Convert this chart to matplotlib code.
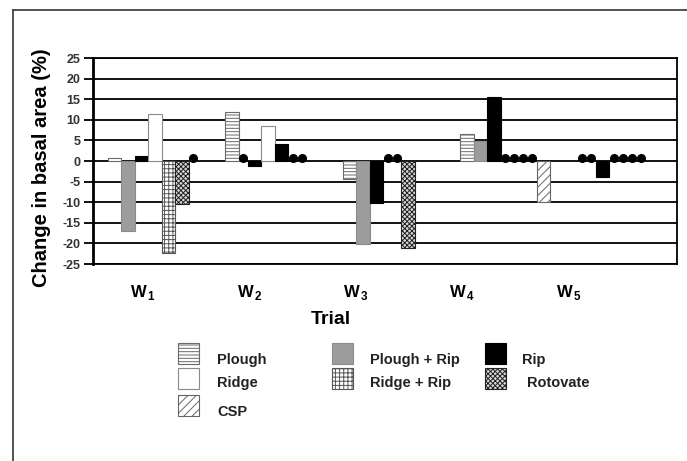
import numpy as np
import matplotlib
matplotlib.use("Agg")
import matplotlib.pyplot as plt
from matplotlib.patches import Rectangle
from matplotlib.lines import Line2D

plt.rcParams['font.family'] = ['Liberation Sans', 'DejaVu Sans']
plt.rcParams['mathtext.fontset'] = 'custom'
plt.rcParams['mathtext.bf'] = 'Liberation Sans:bold'
plt.rcParams['mathtext.rm'] = 'Liberation Sans:bold'
plt.rcParams['hatch.linewidth'] = 0.7

# ---- data (None = no data, shown as a dot on the zero line) ----
trials = ['1', '2', '3', '4', '5']

w1_treat = ['Plough', 'Plough + Rip', 'Rip', 'Ridge', 'Ridge + Rip', 'Rotovate', 'CSP']
w1_vals = [0.7, -17.0, 1.2, 11.3, -22.3, -10.4, None]

w2_treat = ['Plough', 'Plough + Rip', 'Rip', 'Ridge', 'Rip', 'Rotovate', 'CSP']
w2_vals = [12.0, None, -1.2, 8.5, 4.2, None, None]

w3_treat = ['Plough', 'Plough + Rip', 'Rip', 'Ridge', 'Ridge + Rip', 'Rotovate']
w3_vals = [-4.4, -20.1, -10.1, None, None, -21.0]

w4_treat = ['Plough', 'Plough + Rip', 'Rip', 'Ridge', 'Ridge + Rip', 'Rotovate', None, 'CSP']
w4_vals = [6.6, 4.9, 15.6, None, None, None, None, -10.0]

w5_treat = ['Plough', 'Plough + Rip', 'Rip', 'Ridge', 'Ridge + Rip', 'Rotovate', 'CSP']
w5_vals = [None, None, -4.0, None, None, None, None]

groups = [(w1_treat, w1_vals), (w2_treat, w2_vals), (w3_treat, w3_vals),
          (w4_treat, w4_vals), (w5_treat, w5_vals)]

yticks = [-25, -20, -15, -10, -5, 0, 5, 10, 15, 20, 25]

legend_cols = [['Plough', 'Ridge', 'CSP'],
               ['Plough + Rip', 'Ridge + Rip'],
               ['Rip', 'Rotovate']]

# ---- styles ----
styles = {
    'Plough':       dict(facecolor='white', edgecolor='#6a6a6a', hatch='-----'),
    'Plough + Rip': dict(facecolor='#9c9c9c', edgecolor='#8a8a8a', hatch=None),
    'Rip':          dict(facecolor='black', edgecolor='black', hatch=None),
    'Ridge':        dict(facecolor='white', edgecolor='#8a8a8a', hatch=None),
    'Ridge + Rip':  dict(facecolor='white', edgecolor='#555555', hatch='++++'),
    'Rotovate':     dict(facecolor='#d8d8d8', edgecolor='#222222', hatch='xxxxxxx'),
    'CSP':          dict(facecolor='white', edgecolor='#666666', hatch='////'),
}

W, H = 687, 461
fig = plt.figure(figsize=(W / 100, H / 100), dpi=100)

ax_l, ax_r, ax_t, ax_b = 93, 677, 58, 264
ax = fig.add_axes([ax_l / W, 1 - ax_b / H, (ax_r - ax_l) / W, (ax_b - ax_t) / H])

# layout in pixel units along x
bar_w = 13.5
dot_w = 9.0
group_x0 = 14.7
group_step = 117.5

for gi, (treat, vals) in enumerate(groups):
    x = group_x0 + gi * group_step
    for t, v in zip(treat, vals):
        if v is None:
            ax.plot(x + dot_w / 2, 0.8, 'o', color='black', markersize=5.5, zorder=4)
            x += dot_w
        else:
            st = styles[t]
            ax.bar(x, v, width=bar_w, align='edge', facecolor=st['facecolor'],
                   edgecolor=st['edgecolor'], hatch=st['hatch'], linewidth=0.8, zorder=3)
            x += bar_w

for yv in yticks:
    ax.axhline(yv, color='black', lw=1.3, zorder=1)

ax.set_xlim(0, ax_r - ax_l)
ax.set_ylim(-25, 25)
ax.set_yticks(yticks)
ax.set_yticklabels([str(v) for v in yticks], fontsize=9, fontweight='bold', color='#333333')
ax.tick_params(axis='y', direction='out', length=6.5, width=1.3, pad=2.5)

label_x0 = 50
label_step = 106.5
ax.set_xticks([label_x0 + i * label_step for i in range(len(trials))])
ax.set_xticklabels([r'$\mathbf{W}_{\,\mathbf{%s}}$' % t for t in trials], fontsize=12)
ax.tick_params(axis='x', length=0, pad=14)

for s in ['top', 'bottom', 'right']:
    ax.spines[s].set_linewidth(1.3)
ax.spines['left'].set_linewidth(2.0)

fig.text(42 / W, 1 - 168 / H, 'Change in basal area (%)', rotation=90,
         ha='center', va='center', fontsize=14.5, fontweight='bold')
fig.text(331 / W, 1 - 320 / H, 'Trial', ha='center', va='center',
         fontsize=14, fontweight='bold')

# ---- legend drawn by hand ----
patch_x = [178, 332, 485]
text_x = [217, 370, 522]
patch_top = [343, 368, 395]
text_y = [360, 383, 412]
pw, ph = 21, 21
for ci, col in enumerate(legend_cols):
    for ri, name in enumerate(col):
        st = styles[name]
        rect = Rectangle((patch_x[ci] / W, 1 - (patch_top[ri] + ph) / H), pw / W, ph / H,
                         transform=fig.transFigure, facecolor=st['facecolor'],
                         edgecolor=st['edgecolor'], hatch=st['hatch'], linewidth=0.8)
        fig.add_artist(rect)
        tx = text_x[ci] + (5 if name == 'Rotovate' else 0)
        fig.text(tx / W, 1 - text_y[ri] / H, name, ha='left', va='center',
                 fontsize=10.5, fontweight='bold', color='#222222')

# frame of the figure panel (top and left edges)
fig.add_artist(Line2D([13 / W, 1], [1 - 10 / H, 1 - 10 / H], transform=fig.transFigure,
                      color='#444444', lw=1.3))
fig.add_artist(Line2D([13 / W, 13 / W], [0, 1 - 10 / H], transform=fig.transFigure,
                      color='#444444', lw=1.3))

fig.savefig('out.png', dpi=100)
